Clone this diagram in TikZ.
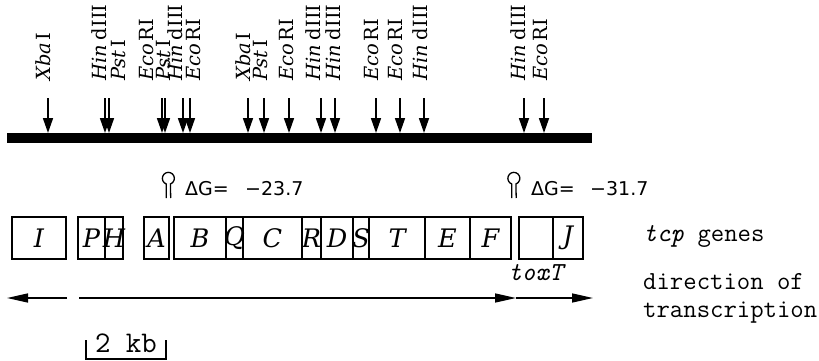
\documentclass[tikz,border=0pt]{standalone}
\usepackage{fontspec}
\newfontfamily\dejavu{DejaVu Sans}
\newfontfamily\dvserif{DejaVu Serif}
\usetikzlibrary{arrows.meta}
\newcommand\enzX{\textit{Xba}\hspace{0.12em}I}
\newcommand\enzH{\textit{Hin}\hspace{0.25em}dIII}
\newcommand\enzP{\textit{Pst}\hspace{0.12em}I}
\newcommand\enzE{\textit{Eco}\hspace{0.12em}RI}
\newcommand\gl[1]{\makebox[0pt]{#1}}
\begin{document}
\begin{tikzpicture}[x=1pt,y=-1pt,
  site/.style={line width=1.7pt,-{Triangle[length=15pt,width=10pt]}},
  enz/.style={rotate=90,anchor=base west,inner sep=0pt,font=\dvserif\fontsize{19.5}{19.5}\selectfont},
  gene/.style={draw,line width=1.1pt,minimum height=42pt,inner sep=0pt,font=\dvserif\itshape\fontsize{25.5}{25.5}\selectfont},
  tx/.style={anchor=base west,inner sep=0pt,font=\ttfamily\fontsize{26}{26}\selectfont},
  dg/.style={anchor=base west,inner sep=0pt,font=\dejavu\fontsize{19}{19}\selectfont},
  dir/.style={line width=1.5pt,-{Triangle[length=21pt,width=9pt]}},
  pin/.style={line width=1.3pt},
  scalebar/.style={line width=1.2pt}
]
\useasboundingbox (0,0) rectangle (819,361);
% chromosome bar
\coordinate (barL) at (7,138);
\coordinate (barR) at (592,138);
\draw[line width=10pt] (barL) -- (barR);
% restriction sites
\foreach \ax/\lx/\lab [count=\i] in {
  48/50/\enzX, 105/106/\enzH, 109/125/\enzP, 162/153/\enzE,
  165/170/\enzP, 183/182/\enzH, 190/200/\enzE, 248/250/\enzX,
  264/267/\enzP, 289/293/\enzE, 321/320/\enzH, 335/340/\enzH,
  376/378/\enzE, 400/402/\enzE, 424/427/\enzH, 524/525/\enzH,
  544/547/\enzE}{
  \coordinate (s\i t) at (\ax,98);
  \coordinate (s\i b) at (\ax,133);
  \draw[site] (s\i t) -- (s\i b);
  \node[enz] (l\i) at (\lx,81) {\lab};
}
% hairpins and free energies
\draw[pin] (166.3,198) -- (166.3,184) arc[start angle=110,end angle=430,radius=6] -- (170.7,198);
\node[dg] (dgA) at (185,195) {ΔG=};
\node[dg] (dvA) at (245,195) {−23.7};
\draw[pin] (511.8,198) -- (511.8,184) arc[start angle=110,end angle=430,radius=6] -- (516.2,198);
\node[dg] (dgB) at (531,195) {ΔG=};
\node[dg] (dvB) at (590,195) {−31.7};
% genes
\node[gene,minimum width=54pt] (gI) at (39,238) {\gl{I}};
\node[gene,minimum width=27pt] (gP) at (91.5,238) {\gl{P}};
\node[gene,minimum width=18pt] (gH) at (114,238) {\gl{H}};
\node[gene,minimum width=25pt] (gA) at (156.5,238) {\gl{A}};
\node[gene,minimum width=52pt] (gB) at (200,238) {\gl{B}};
\node[gene,minimum width=17pt] (gQ) at (234.5,238) {\gl{Q}};
\node[gene,minimum width=59pt] (gC) at (272.5,238) {\gl{C}};
\node[gene,minimum width=19pt] (gR) at (311.5,238) {\gl{R}};
\node[gene,minimum width=32pt] (gD) at (337,238) {\gl{D}};
\node[gene,minimum width=16pt] (gS) at (361,238) {\gl{S}};
\node[gene,minimum width=56pt] (gT) at (397,238) {\gl{T}};
\node[gene,minimum width=45pt] (gE) at (447.5,238) {\gl{E}};
\node[gene,minimum width=41pt] (gF) at (490.5,238) {\gl{F}};
\node[gene,minimum width=34pt] (gX) at (536,238) {};
\node[gene,minimum width=30pt] (gJ) at (568,238) {\gl{J}};
\node[tx] (tcp) at (643,241) {\textit{tcp} genes};
\node[tx] (tox) at (508,280) {\textit{toxT}};
\node[tx] (dir1) at (643,289) {direction of};
\node[tx] (dir2) at (643,317) {transcription};
% transcription arrows
\coordinate (la) at (67,298);
\coordinate (lb) at (7,298);
\coordinate (ra) at (79,298);
\coordinate (rm) at (516,298);
\coordinate (rb) at (593,298);
\draw[dir] (la) -- (lb);
\draw[dir] (ra) -- (rm);
\draw[dir] (rm) -- (rb);
% scale bar
\coordinate (k1) at (86,340);
\coordinate (k2) at (86,359);
\coordinate (k3) at (166,359);
\coordinate (k4) at (166,340);
\draw[scalebar] (k1) -- (k2) -- (k3) -- (k4);
\node[anchor=base,inner sep=0pt,font=\ttfamily\fontsize{30}{30}\selectfont] (kb) at (126,352) {2 kb};
\end{tikzpicture}
\end{document}
